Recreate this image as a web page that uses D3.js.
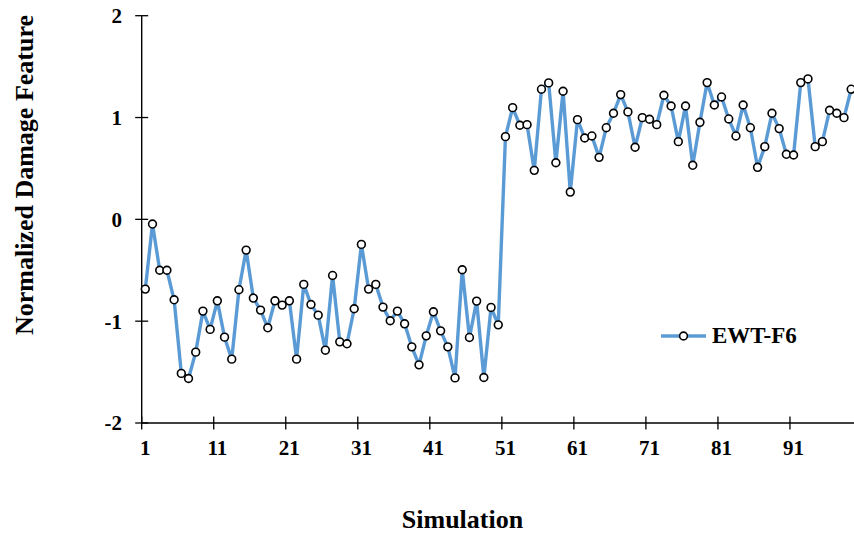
<!DOCTYPE html>
<html>
<head>
<meta charset="utf-8">
<script src="https://cdn.jsdelivr.net/npm/d3@7"></script>
<style>
  body { margin: 0; background: #fff; }
  svg text { font-family: "Liberation Serif", "Times New Roman", serif; font-weight: bold; fill: #000; }
</style>
</head>
<body>
<svg id="chart" width="854" height="535"></svg>
<script>
'use strict';

// Simulation numbers on the category axis (the last one is cut off by the picture edge)
var simulations = d3.range(1, 101);
var xTickValues = [1, 11, 21, 31, 41, 51, 61, 71, 81, 91];
var yTickValues = [-2, -1, 0, 1, 2];
var seriesName = "EWT-F6";

// EWT-F6 normalized damage feature, simulations 1..99
var ewtF6 = [
  -0.685, -0.046, -0.50, -0.50, -0.79, -1.513, -1.563, -1.304, -0.901, -1.081,
  -0.80, -1.157, -1.373, -0.691, -0.302, -0.773, -0.891, -1.065, -0.80, -0.842,
  -0.80, -1.373, -0.639, -0.836, -0.941, -1.285, -0.551, -1.203, -1.222, -0.878,
  -0.246, -0.685, -0.639, -0.862, -0.996, -0.901, -1.026, -1.252, -1.429, -1.144,
  -0.908, -1.095, -1.252, -1.557, -0.495, -1.160, -0.803, -1.553, -0.865, -1.036,
  0.812, 1.097, 0.924, 0.930, 0.481, 1.278, 1.340, 0.556, 1.258, 0.268,
  0.979, 0.799, 0.819, 0.609, 0.900, 1.042, 1.225, 1.055, 0.708, 0.999,
  0.983, 0.930, 1.219, 1.113, 0.763, 1.113, 0.531, 0.953, 1.343, 1.123,
  1.202, 0.986, 0.819, 1.123, 0.900, 0.511, 0.714, 1.042, 0.891, 0.639,
  0.632, 1.343, 1.379, 0.714, 0.763, 1.071, 1.042, 0.999, 1.278
];

var data = ewtF6.map(function(v, i) { return { sim: simulations[i], value: v }; });

var svg = d3.select("#chart");

// Set the plot area
var plotLeft = 141.7, plotTop = 15.7, plotBottom = 423,
    step = 7.203;

// Category axis: each simulation sits in the middle of its slot
var x = d3.scaleLinear()
    .domain([0.5, simulations.length + 0.5])
    .range([plotLeft, plotLeft + simulations.length * step]);
var y = d3.scaleLinear()
    .domain([-2, 2])
    .range([plotBottom, plotTop]);

var lineColor = "#5B9BD5";

// X axis line and cross tick marks at slot boundaries
svg.append("line")
    .attr("x1", plotLeft).attr("x2", 854)
    .attr("y1", y(-2)).attr("y2", y(-2))
    .attr("stroke", "#000").attr("stroke-width", 1.4);

svg.selectAll(".xtick")
    .data(xTickValues)
  .enter().append("line")
    .attr("class", "xtick")
    .attr("x1", function(d) { return x(d - 0.5); })
    .attr("x2", function(d) { return x(d - 0.5); })
    .attr("y1", y(-2) - 6.5).attr("y2", y(-2) + 6.5)
    .attr("stroke", "#000").attr("stroke-width", 1.3);

svg.selectAll(".xlabel")
    .data(xTickValues)
  .enter().append("text")
    .attr("class", "xlabel")
    .attr("x", function(d) { return x(d); })
    .attr("y", 455)
    .attr("text-anchor", "middle")
    .style("font-size", "21px")
    .text(function(d) { return d; });

// Y axis line, ticks and labels
svg.append("line")
    .attr("x1", plotLeft).attr("x2", plotLeft)
    .attr("y1", y(2)).attr("y2", y(-2))
    .attr("stroke", "#000").attr("stroke-width", 1.4);

svg.selectAll(".ytick")
    .data(yTickValues)
  .enter().append("line")
    .attr("class", "ytick")
    .attr("x1", plotLeft - 6.5).attr("x2", plotLeft + 6.5)
    .attr("y1", function(d) { return y(d); })
    .attr("y2", function(d) { return y(d); })
    .attr("stroke", "#000").attr("stroke-width", 1.3);

svg.selectAll(".ylabel")
    .data(yTickValues)
  .enter().append("text")
    .attr("class", "ylabel")
    .attr("x", 122)
    .attr("y", function(d) { return y(d); })
    .attr("dy", "0.35em")
    .attr("text-anchor", "end")
    .style("font-size", "21px")
    .text(function(d) { return d; });

// Axis titles
svg.append("text")
    .attr("transform", "translate(33,175) rotate(-90)")
    .attr("text-anchor", "middle")
    .style("font-size", "26px")
    .text("Normalized Damage Feature");

svg.append("text")
    .attr("x", 462.5)
    .attr("y", 528)
    .attr("text-anchor", "middle")
    .style("font-size", "26px")
    .text("Simulation");

// The series line
var valueline = d3.line()
    .x(function(d) { return x(d.sim); })
    .y(function(d) { return y(d.value); });

svg.append("path")
    .datum(data)
    .attr("fill", "none")
    .attr("stroke", lineColor)
    .attr("stroke-width", 3.4)
    .attr("stroke-linejoin", "round")
    .attr("d", valueline);

// Markers
svg.selectAll(".dot")
    .data(data)
  .enter().append("circle")
    .attr("class", "dot")
    .attr("r", 3.9)
    .attr("cx", function(d) { return x(d.sim); })
    .attr("cy", function(d) { return y(d.value); })
    .attr("fill", "#fff")
    .attr("stroke", "#000")
    .attr("stroke-width", 1.6);

// Legend
var legend = svg.append("g").attr("transform", "translate(661,336)");
legend.append("line")
    .attr("x1", 0).attr("x2", 45)
    .attr("stroke", lineColor).attr("stroke-width", 3.4);
legend.append("circle")
    .attr("cx", 22.5).attr("r", 3.9)
    .attr("fill", "#fff").attr("stroke", "#000").attr("stroke-width", 1.6);
legend.append("text")
    .attr("x", 51)
    .attr("y", 6.5)
    .style("font-size", "23px")
    .text(seriesName);
</script>
</body>
</html>
